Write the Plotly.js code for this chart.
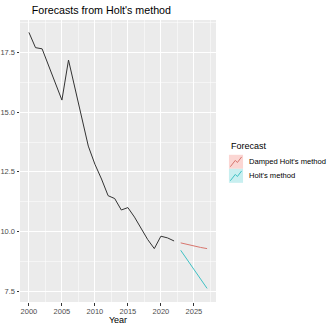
<!DOCTYPE html>
<html>
<head>
<meta charset="utf-8">
<script src="https://cdn.plot.ly/plotly-3.0.1.min.js"></script>
<style>
  body { margin: 0; background: #fff; }
  #grafico { width: 334px; height: 330px; }
</style>
</head>
<body>
<div id="grafico"></div>
<script>
const anios = [2000, 2001, 2002, 2003, 2004, 2005, 2006, 2007, 2008, 2009, 2010, 2011,
    2012, 2013, 2014, 2015, 2016, 2017, 2018, 2019, 2020, 2021, 2022];
const valores = [18.35, 17.71, 17.66, 16.94, 16.22, 15.51, 17.19, 16.0, 14.8, 13.58, 12.82, 12.2,
    11.5, 11.38, 10.9, 11.0, 10.6, 10.1, 9.66, 9.28, 9.8, 9.73, 9.6];

const aniosPronostico = [2023, 2024, 2025, 2026, 2027];
const holtAmortiguado = [9.52, 9.45, 9.39, 9.33, 9.28];
const holt = [9.21, 8.81, 8.41, 8.01, 7.61];

const nombresSeries = ["Damped Holt's method", "Holt's method"];
const colores = ['#d8766e', '#3fc1c4'];
const coloresClaros = ['#fbd6d3', '#c8eff0'];

const fuente = 'Liberation Sans, Arial, sans-serif';

const data = [
    {
        x: anios, y: valores, type: 'scatter', mode: 'lines',
        line: { color: '#333333', width: 1 }, showlegend: false, hoverinfo: 'skip'
    },
    {
        x: aniosPronostico, y: holtAmortiguado, type: 'scatter', mode: 'lines',
        name: nombresSeries[0], line: { color: colores[0], width: 1 }, showlegend: false
    },
    {
        x: aniosPronostico, y: holt, type: 'scatter', mode: 'lines',
        name: nombresSeries[1], line: { color: colores[1], width: 1 }, showlegend: false
    }
];

// leyenda dibujada a mano (cajas con relleno claro, como ggplot)
const shapes = [];
const annotations = [
    {
        text: 'Forecast', xref: 'paper', yref: 'paper', x: 1.066, y: 0.553,
        xanchor: 'left', yanchor: 'middle', showarrow: false,
        font: { family: fuente, size: 9, color: '#000' }
    }
];
const keyX0 = 1.066, keyX1 = 1.138, keyH = 0.0497;
nombresSeries.forEach((nombre, i) => {
    const y1 = 0.522 - i * keyH;
    const y0 = y1 - keyH;
    shapes.push({
        type: 'rect', xref: 'paper', yref: 'paper', x0: keyX0, x1: keyX1, y0: y0, y1: y1,
        fillcolor: coloresClaros[i], line: { width: 0 }
    });
    const w = keyX1 - keyX0, h = y1 - y0;
    const p = (fx, fy) => `${keyX0 + w * fx},${y0 + h * fy}`;
    shapes.push({
        type: 'path', xref: 'paper', yref: 'paper',
        path: `M${p(0.1, 0.15)} L${p(0.45, 0.6)} L${p(0.6, 0.45)} L${p(0.9, 0.85)}`,
        line: { color: colores[i], width: 1 }
    });
    annotations.push({
        text: nombre, xref: 'paper', yref: 'paper', x: 1.16, y: (y0 + y1) / 2,
        xanchor: 'left', yanchor: 'middle', showarrow: false,
        font: { family: fuente, size: 7.6, color: '#000' }
    });
});

const layout = {
    width: 334,
    height: 330,
    margin: { l: 20, r: 118, t: 20, b: 28 },
    paper_bgcolor: '#ffffff',
    plot_bgcolor: '#ebebeb',
    font: { family: fuente },
    showlegend: false,
    title: {
        text: "Forecasts from Holt's method",
        x: 20 / 334, xanchor: 'left', xref: 'paper',
        y: 0.97, yanchor: 'middle', yref: 'container',
        font: { family: fuente, size: 10.7, color: '#000' }
    },
    xaxis: {
        range: [1998.65, 2028.35],
        tick0: 2000, dtick: 5,
        showgrid: true, gridcolor: '#ffffff', gridwidth: 1,
        minor: { dtick: 2.5, showgrid: true, gridcolor: '#ffffff', gridwidth: 0.5 },
        zeroline: false, showline: false,
        ticks: 'outside', ticklen: 2.5, tickcolor: '#333333', tickwidth: 1,
        ticklabelstandoff: -1,
        tickfont: { family: fuente, size: 7.5, color: '#4d4d4d' },
        title: { text: 'Year', font: { family: fuente, size: 9, color: '#000' }, standoff: 2 }
    },
    yaxis: {
        range: [7.04, 18.87],
        tick0: 7.5, dtick: 2.5, tickformat: '.1f',
        showgrid: true, gridcolor: '#ffffff', gridwidth: 1,
        minor: { dtick: 1.25, showgrid: true, gridcolor: '#ffffff', gridwidth: 0.5 },
        zeroline: false, showline: false,
        ticks: 'outside', ticklen: 2.5, tickcolor: '#333333', tickwidth: 1,
        tickfont: { family: fuente, size: 7.5, color: '#4d4d4d' }
    },
    shapes: shapes,
    annotations: annotations
};

Plotly.newPlot('grafico', data, layout, { staticPlot: true, displayModeBar: false });
</script>
</body>
</html>
